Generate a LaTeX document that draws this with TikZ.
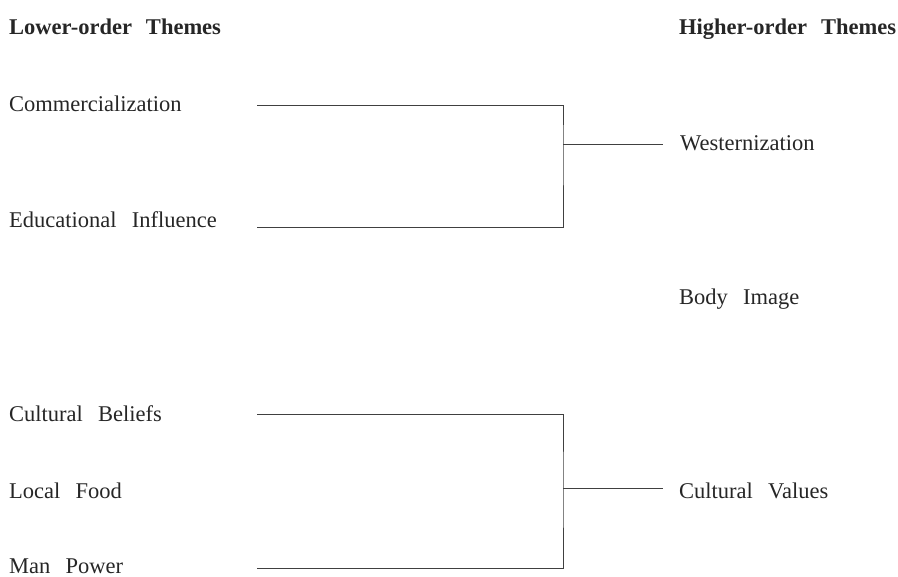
\documentclass[tikz,border=0pt]{standalone}
\usepackage{fontspec}
\setmainfont{Liberation Serif}
\usepackage{tikz}
\usetikzlibrary{positioning}

\tikzset{
    theme/.style={anchor=base west, inner sep=0pt, text=black!85,
        font=\fontsize{22.5}{27}\selectfont,
        execute at begin node={\spaceskip=0.68em\relax}},
    header/.style={theme, font=\fontsize{22.5}{27}\selectfont\bfseries,
        execute at begin node={\spaceskip=0.62em\relax}},
    link/.style={line width=0.9pt, draw=black!75}
}

\begin{document}
\begin{tikzpicture}[x=1pt, y=-1pt]
    \useasboundingbox (0,0) rectangle (898,577);

    % Column headers
    \node[header] (lower) at (9,35) {Lower-order Themes};
    \node[header] (higher) at (679,35) {Higher-order Themes};

    % Lower-order themes
    \node[theme] (comm) at (9,112) {Commercialization};
    \node[theme] (edu) at (9,228) {Educational Influence};
    \node[theme] (belief) at (9,422) {Cultural Beliefs};
    \node[theme] (food) at (9,499) {Local Food};
    \node[theme] (power) at (9,573) {Man Power};

    % Higher-order themes
    \node[theme] (west) at (680,151) {Westernization};
    \node[theme] (body) at (679,305) {Body Image};
    \node[theme] (values) at (679,499) {Cultural Values};

    % Bracket ends
    \coordinate (commEnd) at (257,105);
    \coordinate (eduEnd) at (257,227);
    \coordinate (beliefEnd) at (257,414);
    \coordinate (powerEnd) at (257,568);
    \coordinate (westJoin) at (563,144);
    \coordinate (valuesJoin) at (563,488);

    % Westernization bracket
    \draw[link] (commEnd) -| (westJoin) |- (eduEnd);
    \draw[link] (westJoin) -- ([xshift=-17pt]west.west |- westJoin);

    % Cultural values bracket
    \draw[link] (beliefEnd) -| (valuesJoin) |- (powerEnd);
    \draw[link] (valuesJoin) -- ([xshift=-16pt]values.west |- valuesJoin);

\end{tikzpicture}
\end{document}
